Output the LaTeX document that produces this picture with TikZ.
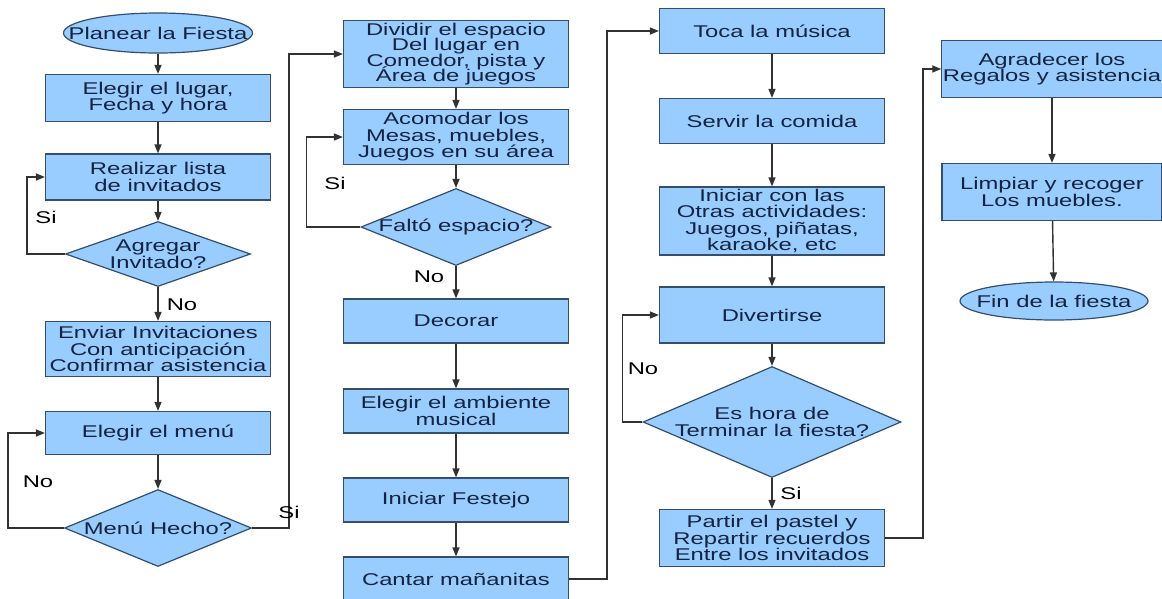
\documentclass[tikz,border=0pt]{standalone}
\usepackage{fontspec}
\setmainfont{Liberation Sans}[FakeStretch=1.40]
\usetikzlibrary{arrows.meta,shapes.geometric}
\definecolor{fiestaFill}{RGB}{153,204,255}
\definecolor{fiestaEdge}{RGB}{52,78,108}
\definecolor{fiestaText}{RGB}{20,36,62}
\definecolor{fiestaLine}{RGB}{50,50,50}
\newcommand{\tightfont}{\fontsize{17}{15.5}\selectfont\setlength{\lineskiplimit}{-10pt}}

\begin{document}
\begin{tikzpicture}[x=1pt,y=-1pt,
    txt/.style={font=\fontsize{17}{16.5}\selectfont, text=fiestaText, align=center},
    box/.style={txt, draw=fiestaEdge, fill=fiestaFill, line width=1.2pt, minimum width=225pt, inner xsep=2pt, inner ysep=0pt},
    terminal/.style={ellipse, draw=fiestaEdge, fill=fiestaFill, line width=1.2pt, inner sep=0pt},
    decision/.style={diamond, draw=fiestaEdge, fill=fiestaFill, line width=1.2pt, inner sep=0pt},
    inside/.style={label={[txt]center:#1}},
    conn/.style={fiestaLine, line width=1.4pt, -{Triangle[length=9pt,width=7pt]}},
    answer/.style={font=\fontsize{17}{16.5}\selectfont, text=black}]
    \useasboundingbox (0,0) rectangle (1162,598);

    % first column
    \node[terminal, minimum width=189pt, minimum height=40pt, inside={Planear la Fiesta}] (planear) at (158,33) {};
    \node[box, minimum height=47pt] (lugar) at (158,98) {Elegir el lugar,\\Fecha y hora};
    \node[box, minimum height=46pt] (lista) at (158,177) {Realizar lista\\de invitados};
    \node[decision, minimum width=185pt, minimum height=65pt, inside={Agregar\\Invitado?}] (agregar) at (158,254) {};
    \node[box, minimum height=55pt] (enviar) at (158,349) {Enviar Invitaciones\\Con anticipación\\Confirmar asistencia};
    \node[box, minimum height=43pt] (menu) at (158,433) {Elegir el menú};
    \node[decision, minimum width=187pt, minimum height=77pt, inside={Menú Hecho?}] (hecho) at (158,528) {};

    % second column
    \node[box, minimum height=67pt, font=\tightfont] (dividir) at (456,54) {Dividir el espacio\\Del lugar en\\Comedor, pista y\\Área de juegos};
    \node[box, minimum height=55pt] (acomodar) at (456,137) {Acomodar los\\Mesas, muebles,\\Juegos en su área};
    \node[decision, minimum width=190pt, minimum height=77pt, inside={Faltó espacio?}] (falto) at (456,227) {};
    \node[box, minimum height=44pt] (decorar) at (456,321) {Decorar};
    \node[box, minimum height=44pt] (ambiente) at (456,411) {Elegir el ambiente\\musical};
    \node[box, minimum height=44pt] (festejo) at (456,500) {Iniciar Festejo};
    \node[box, minimum height=44pt] (cantar) at (456,579) {Cantar mañanitas};

    % third column
    \node[box, minimum height=45pt] (musica) at (772,31) {Toca la música};
    \node[box, minimum height=45pt] (comida) at (772,121) {Servir la comida};
    \node[box, minimum height=68pt] (actividades) at (772,221) {Iniciar con las\\Otras actividades:\\Juegos, piñatas,\\karaoke, etc};
    \node[box, minimum height=56pt] (divertirse) at (772,315) {Divertirse};
    \node[decision, minimum width=258pt, minimum height=111pt, inside={Es hora de\\Terminar la fiesta?}] (hora) at (772,422) {};
    \node[box, minimum height=57pt] (pastel) at (772,538) {Partir el pastel y\\Repartir recuerdos\\Entre los invitados};

    % fourth column
    \node[box, minimum width=220pt, inner xsep=1pt, minimum height=57pt] (agradecer) at (1052,69) {Agradecer los\\Regalos y asistencia};
    \node[box, minimum width=220pt, minimum height=57pt] (limpiar) at (1052,192) {Limpiar y recoger\\Los muebles.};
    \node[terminal, minimum width=188pt, minimum height=38pt, inside={Fin de la fiesta}] (fin) at (1054,301) {};

    % straight flow
    \draw[conn] (planear) -- (lugar);
    \draw[conn] (lugar) -- (lista);
    \draw[conn] (lista) -- (agregar);
    \draw[conn] (agregar) -- (enviar);
    \draw[conn] (enviar) -- (menu);
    \draw[conn] (menu) -- (hecho);
    \draw[conn] (dividir) -- (acomodar);
    \draw[conn] (acomodar) -- (falto);
    \draw[conn] (falto) -- (decorar);
    \draw[conn] (decorar) -- (ambiente);
    \draw[conn] (ambiente) -- (festejo);
    \draw[conn] (festejo) -- (cantar);
    \draw[conn] (musica) -- (comida);
    \draw[conn] (comida) -- (actividades);
    \draw[conn] (actividades) -- (divertirse);
    \draw[conn] (divertirse) -- (hora);
    \draw[conn] (hora) -- (pastel);
    \draw[conn] (agradecer) -- (limpiar);
    \draw[conn] (limpiar) -- (fin);

    % loops and jumps
    \draw[conn] (agregar.west) -- ++(-38,0) |- (lista.west);
    \draw[conn] (hecho.west) -- ++(-56,0) |- (menu.west);
    \draw[conn] (hecho.east) -- ++(37,0) |- (dividir.west);
    \draw[conn] (falto.west) -- ++(-54,0) |- (acomodar.west);
    \draw[conn] (cantar.east) -- ++(38,0) |- (musica.west);
    \draw[conn] (hora.west) -- ++(-20,0) |- (divertirse.west);
    \draw[conn] (pastel.east) -- ++(38,0) |- (agradecer.west);

    % answers
    \node[answer] (si1) at (46,217) {Si};
    \node[answer] (no1) at (182,305) {No};
    \node[answer] (no2) at (38,482) {No};
    \node[answer] (si2) at (289,512) {Si};
    \node[answer] (si3) at (335,183) {Si};
    \node[answer] (no3) at (429,277) {No};
    \node[answer] (no4) at (643,369) {No};
    \node[answer] (si4) at (791,493) {Si};
\end{tikzpicture}
\end{document}
